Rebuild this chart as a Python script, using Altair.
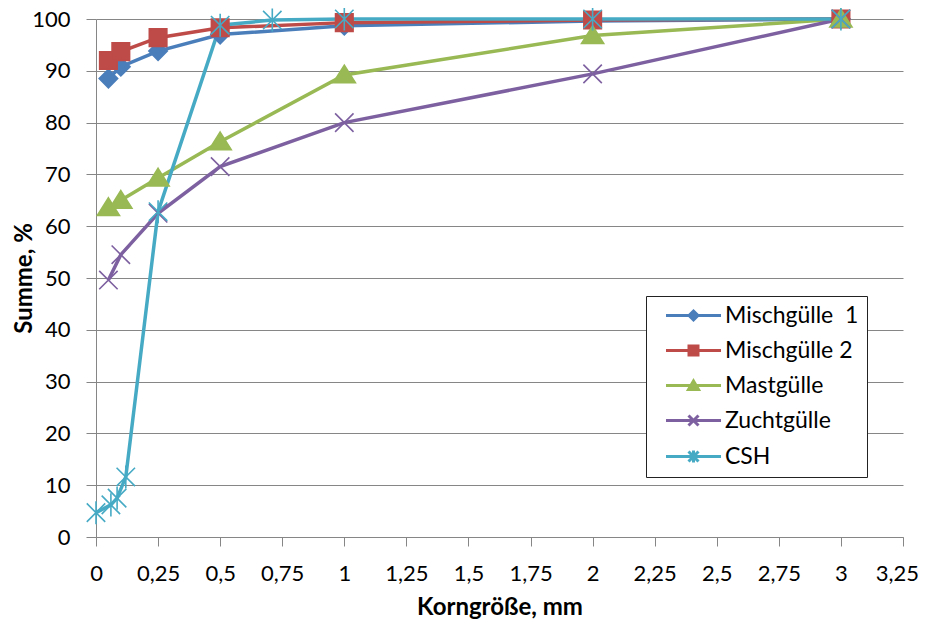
import altair as alt
import pandas as pd

series_names = ["Mischgülle \u00a01", "Mischgülle 2", "Mastgülle", "Zuchtgülle", "CSH"]
colors = ["#4A7EBB", "#BE4B48", "#98B954", "#7D60A0", "#46AAC5"]

x_std = [0.05, 0.1, 0.25, 0.5, 1, 2, 3]
misch1 = [88.5, 90.8, 93.8, 97.0, 98.7, 99.6, 100]
misch2 = [92.0, 93.7, 96.4, 98.3, 99.3, 99.8, 100]
mast = [63.6, 65.0, 69.3, 76.3, 89.2, 96.8, 100]
zucht = [49.6, 54.5, 62.5, 71.5, 80.0, 89.4, 100]
x_csh = [0, 0.06, 0.085, 0.12, 0.25, 0.5, 0.71, 1, 2, 3]
csh = [4.7, 6.2, 7.5, 11.6, 62.8, 98.8, 99.8, 100, 100, 100]

x_ticks = [i * 0.25 for i in range(14)]
y_ticks = list(range(0, 101, 10))

rows = []
for name, xs, ys in [
    (series_names[0], x_std, misch1),
    (series_names[1], x_std, misch2),
    (series_names[2], x_std, mast),
    (series_names[3], x_std, zucht),
    (series_names[4], x_csh, csh),
]:
    for xv, yv in zip(xs, ys):
        rows.append({"series": name, "x": xv, "y": yv})
df = pd.DataFrame(rows)

# marker shapes (normalized paths)
shape_diamond = "M0,-1L1,0L0,1L-1,0Z"
shape_square = "M-0.95,-0.95L0.95,-0.95L0.95,0.95L-0.95,0.95Z"
shape_tri = "M0,-1.05L1.2,0.85L-1.2,0.85Z"
shape_x = "M-1,-1L1,1M1,-1L-1,1"
shape_ast = "M-1,-1L1,1M1,-1L-1,1M0,-1.25L0,1.25"
chart_shapes = [shape_diamond, shape_square, shape_tri, shape_x, shape_ast]

leg_line = "M-5.5,0L5.5,0"
legend_shapes = [
    leg_line + "M0,-0.9L0.9,0L0,0.9L-0.9,0Z",
    leg_line + "M-0.9,-0.9L0.9,-0.9L0.9,0.9L-0.9,0.9Z",
    leg_line + "M0,-0.9L1,0.8L-1,0.8Z",
    leg_line + "M-1,-1L1,1M1,-1L-1,1",
    leg_line + "M-1,-1L1,1M1,-1L-1,1M0,-1.2L0,1.2",
]

font = "Lato, 'Open Sans', sans-serif"

x_enc = alt.X(
    "x:Q",
    scale=alt.Scale(domain=[0, 3.25], nice=False, zero=False),
    axis=alt.Axis(
        values=x_ticks,
        labelExpr="replace('' + datum.value, '.', ',')",
        labelFlush=False,
        labelOffset={"condition": {"test": "datum.value > 3.2", "value": -6}, "value": 0},
        title="Korngröße, mm",
        grid=False,
        tickSize=9,
        labelPadding=17,
        titlePadding=11,
    ),
)
y_enc = alt.Y(
    "y:Q",
    scale=alt.Scale(domain=[0, 100], nice=False),
    axis=alt.Axis(
        values=y_ticks,
        title="Summe, %",
        grid=True,
        tickSize=10,
        labelPadding=16,
        titlePadding=-5,
    ),
)

lines = alt.Chart(df).mark_line(strokeWidth=3.5).encode(
    x=x_enc,
    y=y_enc,
    color=alt.Color("series:N", scale=alt.Scale(domain=series_names, range=colors), legend=None),
)

points = alt.Chart(df).mark_point(filled=True, size=340, strokeWidth=1.6, opacity=1).encode(
    x=x_enc,
    y=y_enc,
    color=alt.Color("series:N", scale=alt.Scale(domain=series_names, range=colors), legend=None),
    stroke=alt.Stroke("series:N", scale=alt.Scale(domain=series_names, range=colors), legend=None),
    shape=alt.Shape("series:N", scale=alt.Scale(domain=series_names, range=chart_shapes), legend=None),
)

legend_layer = alt.Chart(df).transform_filter("false").mark_point(filled=True, size=100, opacity=1).encode(
    x=x_enc,
    y=y_enc,
    color=alt.Color("series:N", scale=alt.Scale(domain=series_names, range=colors), legend=alt.Legend(title=None)),
    stroke=alt.Stroke("series:N", scale=alt.Scale(domain=series_names, range=colors), legend=alt.Legend(title=None)),
    shape=alt.Shape(
        "series:N",
        scale=alt.Scale(domain=series_names, range=legend_shapes),
        legend=alt.Legend(title=None),
    ),
)

chart = (
    alt.layer(lines, points, legend_layer)
    .resolve_scale(shape="independent", color="independent", stroke="independent")
    .properties(
        width=807,
        height=518,
        autosize=alt.AutoSizeParams(type="none"),
        padding={"left": 88, "top": 11, "right": 16, "bottom": 82},
    )
    .configure_view(stroke=None)
    .configure_axis(
        labelFont=font,
        titleFont=font,
        labelFontSize=22,
        titleFontSize=24,
        titleFontWeight="bold",
        labelColor="#000000",
        titleColor="#000000",
        domainColor="#868686",
        tickColor="#868686",
        gridColor="#868686",
        domainWidth=1,
        gridWidth=1,
    )
    .configure_legend(
        orient="none",
        legendX=550,
        legendY=277,
        labelFont=font,
        labelFontSize=23,
        labelColor="#000000",
        labelLimit=300,
        padding=8,
        rowPadding=11,
        symbolOffset=28,
        labelOffset=20,
        symbolStrokeWidth=3,
        strokeColor="#222222",
        fillColor="#ffffff",
    )
)

chart.save("out.html", embed_options={"renderer": "svg", "actions": False})
